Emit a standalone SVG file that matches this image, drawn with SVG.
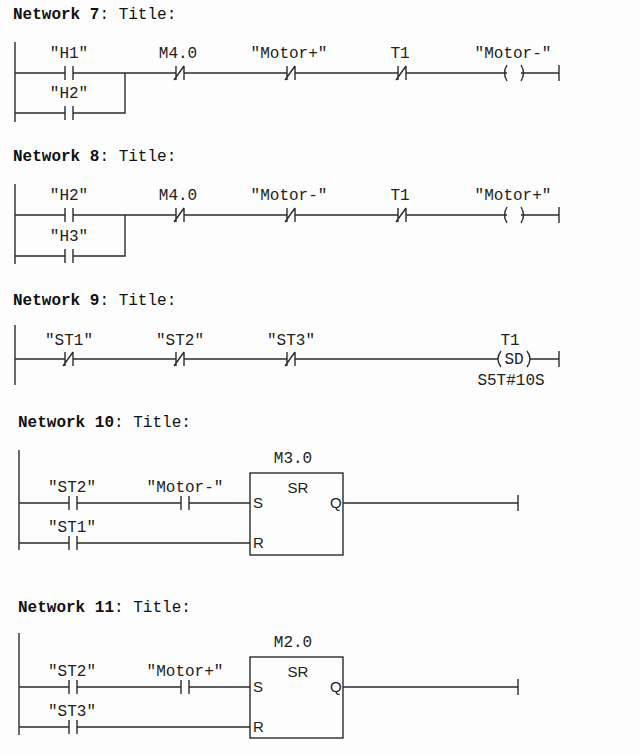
<svg xmlns="http://www.w3.org/2000/svg" width="640" height="755" viewBox="0 0 640 755">
<defs>
<style>
.w{stroke:#2a2a2a;stroke-width:1.4;fill:none}
.t{font-family:"Liberation Mono","Courier New",monospace;font-size:16px;fill:#222}
.c{text-anchor:middle}
.h{font-family:"Liberation Mono","Courier New",monospace;font-size:16px;fill:#111}
.b{font-weight:bold}
.s{font-family:"Liberation Sans",Arial,sans-serif;font-size:15px;fill:#222}
</style>
<g id="no"><path class="w" d="M-4,-7V7M4,-7V7"/></g>
<g id="nc"><path class="w" d="M-4,-7V7M4,-7V7M-6,7L4,-7"/></g>
<g id="coil"><path class="w" d="M-7,-8Q-12,0 -7,8M7,-8Q12,0 7,8"/></g>
<g id="end"><path class="w" d="M0,-8V8"/></g>
</defs>
<rect width="640" height="755" fill="#fdfdfd"/>

<!-- Network 7 -->
<g id="network7">
<text class="h" x="13" y="19"><tspan class="b">Network 7</tspan>: Title:</text>
<path class="w" d="M15,42V122"/>
<g class="t c">
<text x="69" y="58">"H1"</text>
<text x="69" y="98">"H2"</text>
<text x="178" y="58">M4.0</text>
<text x="289" y="58">"Motor+"</text>
<text x="400" y="58">T1</text>
<text x="513" y="58">"Motor-"</text>
</g>
<g id="n7_H1"><use href="#no" x="69" y="73"/></g>
<g id="n7_H2"><use href="#no" x="69" y="113"/></g>
<g id="n7_M40"><use href="#nc" x="180" y="73"/></g>
<g id="n7_MotorP"><use href="#nc" x="291" y="73"/></g>
<g id="n7_T1"><use href="#nc" x="402" y="73"/></g>
<g id="n7_coil"><use href="#coil" x="514" y="73"/></g>
<g id="n7_end"><use href="#end" x="559" y="73"/></g>
</g>

<!-- Network 8 -->
<g id="network8">
<text class="h" x="13" y="161"><tspan class="b">Network 8</tspan>: Title:</text>
<path class="w" d="M15,184V264"/>
<g class="t c">
<text x="69" y="200">"H2"</text>
<text x="69" y="241">"H3"</text>
<text x="178" y="200">M4.0</text>
<text x="289" y="200">"Motor-"</text>
<text x="400" y="200">T1</text>
<text x="513" y="200">"Motor+"</text>
</g>
<g id="n8_H2"><use href="#no" x="69" y="215"/></g>
<g id="n8_H3"><use href="#no" x="69" y="256"/></g>
<g id="n8_M40"><use href="#nc" x="180" y="215"/></g>
<g id="n8_MotorM"><use href="#nc" x="291" y="215"/></g>
<g id="n8_T1"><use href="#nc" x="402" y="215"/></g>
<g id="n8_coil"><use href="#coil" x="514" y="215"/></g>
<g id="n8_end"><use href="#end" x="559" y="215"/></g>
</g>

<!-- Network 9 -->
<g id="network9">
<text class="h" x="13" y="305"><tspan class="b">Network 9</tspan>: Title:</text>
<path class="w" d="M15,325V385"/>
<g class="t c">
<text x="69" y="345">"ST1"</text>
<text x="180" y="345">"ST2"</text>
<text x="291" y="345">"ST3"</text>
<text x="510" y="345">T1</text>
<text x="514" y="364">SD</text>
<text x="511" y="385">S5T#10S</text>
</g>
<g id="n9_ST1"><use href="#nc" x="69" y="359"/></g>
<g id="n9_ST2"><use href="#nc" x="180" y="359"/></g>
<g id="n9_ST3"><use href="#nc" x="291" y="359"/></g>
<g id="n9_coil"><path class="w" d="M501,351Q495,359 501,367M527,351Q533,359 527,367"/></g>
<g id="n9_end"><use href="#end" x="559" y="359"/></g>
</g>

<!-- Network 10 -->
<g id="network10">
<text class="h" x="18" y="427"><tspan class="b">Network 10</tspan>: Title:</text>
<path class="w" d="M19,450V550"/>
<g class="t c">
<text x="72" y="492">"ST2"</text>
<text x="185" y="492">"Motor-"</text>
<text x="72" y="532">"ST1"</text>
<text x="293" y="463">M3.0</text>
</g>
<g id="n10_ST2"><use href="#no" x="73" y="503"/></g>
<g id="n10_MotorM"><use href="#no" x="185" y="503"/></g>
<g id="n10_ST1"><use href="#no" x="73" y="543"/></g>
<g id="n10_SR">
<rect class="w" x="250" y="473" width="93" height="82"/>
<text class="s" x="298" y="493" text-anchor="middle">SR</text>
<text class="s" x="253" y="508">S</text>
<text class="s" x="330" y="508">Q</text>
<text class="s" x="253" y="548">R</text>
</g>
<g id="n10_end"><use href="#end" x="518" y="503"/></g>
</g>

<!-- Network 11 -->
<g id="network11">
<text class="h" x="18" y="612"><tspan class="b">Network 11</tspan>: Title:</text>
<path class="w" d="M19,633V735"/>
<g class="t c">
<text x="72" y="676">"ST2"</text>
<text x="185" y="676">"Motor+"</text>
<text x="72" y="716">"ST3"</text>
<text x="293" y="647">M2.0</text>
</g>
<g id="n11_ST2"><use href="#no" x="73" y="687"/></g>
<g id="n11_MotorP"><use href="#no" x="185" y="687"/></g>
<g id="n11_ST3"><use href="#no" x="73" y="727"/></g>
<g id="n11_SR">
<rect class="w" x="250" y="657" width="93" height="81"/>
<text class="s" x="298" y="677" text-anchor="middle">SR</text>
<text class="s" x="253" y="692">S</text>
<text class="s" x="330" y="692">Q</text>
<text class="s" x="253" y="732">R</text>
</g>
<g id="n11_end"><use href="#end" x="518" y="687"/></g>
</g>

<!-- connectors -->
<g id="connectors" class="w">
<path d="M15,73H65M73,73H176M184,73H287M295,73H398M406,73H507M521,73H559"/>
<path d="M15,113H65M73,113H125V73"/>
<path d="M15,215H65M73,215H176M184,215H287M295,215H398M406,215H507M521,215H559"/>
<path d="M15,256H65M73,256H125V215"/>
<path d="M15,359H65M73,359H176M184,359H287M295,359H498M530,359H559"/>
<path d="M19,503H69M77,503H181M189,503H250M343,503H518"/>
<path d="M19,543H69M77,543H250"/>
<path d="M19,687H69M77,687H181M189,687H250M343,687H518"/>
<path d="M19,727H69M77,727H250"/>
</g>
</svg>
